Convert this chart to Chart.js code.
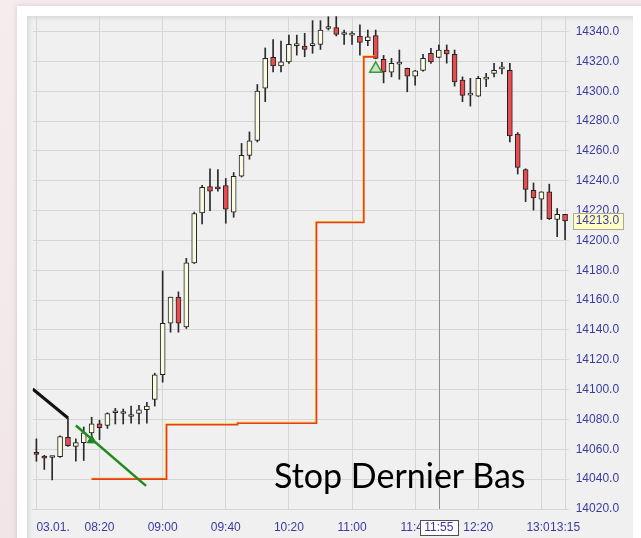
<!DOCTYPE html>
<html>
<head>
<meta charset="utf-8">
<script src="https://cdn.jsdelivr.net/npm/chart.js@4.4.0/dist/chart.umd.min.js"></script>
<style>
  html, body { margin: 0; padding: 0; width: 641px; height: 538px; overflow: hidden; }
  body { position: relative; background: linear-gradient(180deg, #f6ecee 0%, #f1e5e7 100%); }
  #frame { position: absolute; left: 17px; top: 6px; width: 640px; height: 540px; background: #fff; box-shadow: 0 0 5px rgba(120, 90, 90, 0.25); }
  #panel { position: absolute; left: 27px; top: 16px; width: 606px; height: 530px; background: #f0f0f0; box-shadow: inset 2px 2px 4px rgba(0, 0, 0, 0.10); }
  #chart { position: absolute; left: 0; top: 0; }
  #caption { position: absolute; left: 274px; top: 458px; font: 34px Lato, sans-serif; line-height: 1; color: #000; white-space: nowrap; }
</style>
</head>
<body>
<div id="frame"></div>
<div id="panel"></div>
<canvas id="chart" width="641" height="538"></canvas>
<div id="caption">Stop Dernier Bas</div>
<script>
// 5 minute candles, index 0 = 07:40
var opens  = [14058, 14055.5, 14054.5, 14055, 14068, 14062, 14064.5, 14071, 14077, 14076,
              14084.5, 14084, 14082, 14084, 14086.5, 14093.5, 14110, 14144.5, 14162, 14142,
              14185, 14218.5, 14236, 14235, 14236.7, 14219, 14243, 14257, 14267, 14302,
              14322.7, 14317, 14319.7, 14330.5, 14330.3, 14330.5, 14331.4, 14342, 14342.6, 14338,
              14337.6, 14337, 14333.8, 14337.3, 14321.3, 14312.8, 14318.2, 14315.3, 14310, 14314,
              14325.4, 14322.7, 14327.6, 14324.7, 14307.4, 14297.4, 14296.7, 14308.1, 14312, 14315,
              14314, 14271.2, 14247.5, 14233.6, 14227.7, 14232.5, 14214, 14217.5];
var highs  = [14067, 14056, 14055.5, 14069, 14081, 14067, 14075, 14081.5, 14079.5, 14084.5,
              14087.5, 14087, 14089, 14089.5, 14091.5, 14111, 14179.5, 14162, 14165.5, 14188,
              14219, 14237, 14248, 14247.5, 14241.5, 14245.5, 14265, 14272.7, 14304.5, 14329,
              14334.6, 14333.6, 14337.6, 14337.6, 14338.8, 14347.3, 14347.3, 14349.9, 14350, 14341,
              14339.9, 14344.4, 14341, 14341, 14324, 14322, 14327.6, 14315.5, 14314, 14324.7,
              14328.7, 14331, 14331, 14327.6, 14309.6, 14308.6, 14310, 14312, 14318.6, 14319.3,
              14318.6, 14272.3, 14248, 14238.5, 14232.6, 14237.7, 14221.4, 14217.5];
var lows   = [14052, 14046.5, 14039.5, 14054.5, 14062, 14052, 14052.5, 14066.5, 14066.5, 14074,
              14077, 14077, 14077.5, 14077, 14077.5, 14089, 14105, 14138.5, 14138.5, 14141,
              14184.5, 14211, 14220, 14233, 14211.5, 14215.5, 14242.5, 14254.4, 14266, 14293,
              14313, 14313, 14318.6, 14324.2, 14323.1, 14325.4, 14328, 14341, 14337, 14331.4,
              14331.4, 14324.2, 14330.5, 14321.7, 14305.6, 14309.6, 14308, 14299.6, 14304, 14313.5,
              14318.6, 14322.5, 14318.8, 14303.4, 14293, 14290, 14296.5, 14303, 14309.6, 14311.5,
              14266, 14244.5, 14226, 14220.3, 14214, 14214, 14202.5, 14200.5];
var closes = [14056.5, 14054, 14054.5, 14068.5, 14062.5, 14064.5, 14071, 14077, 14074.5, 14084,
              14084.5, 14084, 14082, 14086.5, 14089, 14110, 14144.5, 14162, 14144.5, 14185,
              14218, 14235.5, 14233, 14234.5, 14221, 14243, 14257, 14266.7, 14300, 14322,
              14317, 14319.7, 14331.4, 14330.5, 14328, 14330.5, 14341, 14342, 14338, 14338,
              14337.6, 14332.7, 14336.5, 14322, 14313, 14318.6, 14318.2, 14310.1, 14313.7, 14322,
              14319.7, 14327.6, 14325, 14306.3, 14297.2, 14297.4, 14308.6, 14308.1, 14314, 14315,
              14270, 14249, 14234.2, 14228.4, 14232.5, 14214.6, 14217.5, 14213];

var xTickIdx    = [0, 8, 16, 24, 32, 40, 48, 56, 64];
var xTickLabels = ['03.01.', '08:20', '09:00', '09:40', '10:20', '11:00', '11:40', '12:20', '13:00'];
var yTicks = [14020, 14040, 14060, 14080, 14100, 14120, 14140, 14160, 14180, 14200,
              14220, 14240, 14260, 14280, 14300, 14320, 14340];

// trailing stop on the last low, with the drawn trend lines and markers
var stopSteps  = [{x: 7, y: 14040}, {x: 16.5, y: 14076.5}, {x: 25.5, y: 14077.5},
                  {x: 35.5, y: 14212}, {x: 41.5, y: 14323}, {x: 43, y: 14323}];
var blackTrend = [{x: -0.47, y: 14100.4}, {x: 4, y: 14081}];
var greenTrend = [{x: 5, y: 14076}, {x: 13.9, y: 14035.5}];
var entryMark  = [{x: 7, y: 14066}];
var stopHit    = [{x: 43, y: 14315}];

var cursorIdx = 51, cursorLabel = '11:55';
var lastIdx = 67, lastLabel = '13:15';

var labelFont = '12px "Liberation Sans", Arial, sans-serif';
var labelColor = '#3a3aa2';
var gridColor = '#d6d6d6';

var idx = opens.map(function (o, i) { return i; });
var bodies = idx.map(function (i) { return {x: i, y: [opens[i], closes[i]]}; });
var wicks = idx.map(function (i) { return {x: i, y: [lows[i], highs[i]]}; });
var bodyColors = idx.map(function (i) { return closes[i] < opens[i] ? '#e84b50' : '#fbfbe0'; });

var overlay = {
  id: 'overlay',
  beforeDatasetsDraw: function (chart) {
    var ctx = chart.ctx, a = chart.chartArea;
    var x = Math.round(chart.scales.x.getPixelForValue(cursorIdx)) + 0.5;
    ctx.save();
    ctx.strokeStyle = '#8e8e8e';
    ctx.lineWidth = 1;
    ctx.beginPath();
    ctx.moveTo(x, a.top);
    ctx.lineTo(x, a.bottom);
    ctx.stroke();
    ctx.restore();
  },
  beforeDatasetDraw: function (chart, args) {
    if (chart.data.datasets[args.index].label === 'stopEdge') {
      chart.ctx.save();
      chart.ctx.translate(-1, -1);
    }
  },
  afterDatasetDraw: function (chart, args) {
    if (chart.data.datasets[args.index].label === 'stopEdge') chart.ctx.restore();
  },
  afterDraw: function (chart) {
    var ctx = chart.ctx, a = chart.chartArea, sx = chart.scales.x, sy = chart.scales.y;
    var ty = a.bottom + 18.5;
    ctx.save();
    ctx.font = labelFont;
    ctx.textBaseline = 'middle';

    // last candle time, on top of the 13:00 label
    var lx = sx.getPixelForValue(lastIdx);
    var lw = ctx.measureText(lastLabel).width;
    ctx.fillStyle = '#f0f0f0';
    ctx.fillRect(lx - lw / 2 - 1, ty - 7, lw + 2, 14);
    ctx.fillStyle = labelColor;
    ctx.textAlign = 'center';
    ctx.fillText(lastLabel, lx, ty);

    // cursor time box
    var cx = sx.getPixelForValue(cursorIdx);
    ctx.fillStyle = '#ffffff';
    ctx.fillRect(cx - 19, ty - 7.5, 38, 15);
    ctx.strokeStyle = '#505050';
    ctx.lineWidth = 1;
    ctx.strokeRect(Math.round(cx - 19) + 0.5, Math.round(ty - 7.5) + 0.5, 38, 15);
    ctx.fillStyle = labelColor;
    ctx.fillText(cursorLabel, cx, ty);

    // last price box on the price axis
    var py = sy.getPixelForValue(closes[lastIdx]);
    var bx = a.right + 7;
    ctx.fillStyle = '#ffffc4';
    ctx.fillRect(bx, py - 8, 50, 16);
    ctx.strokeStyle = '#a8a8a0';
    ctx.strokeRect(Math.round(bx) + 0.5, Math.round(py - 8) + 0.5, 50, 16);
    ctx.fillStyle = labelColor;
    ctx.textAlign = 'left';
    ctx.fillText(closes[lastIdx].toFixed(1), a.right + 10, py);
    ctx.restore();
  }
};

new Chart(document.getElementById('chart'), {
  type: 'bar',
  data: {
    datasets: [
      { type: 'line', label: 'blackTrend', data: blackTrend, borderColor: '#111111', borderWidth: 3,
        pointRadius: 0, order: 0 },
      { type: 'line', label: 'greenTrend', data: greenTrend, borderColor: '#1e8c1e', borderWidth: 2.5,
        pointRadius: 0, order: 0 },
      { type: 'scatter', label: 'entry', data: entryMark, pointStyle: 'triangle', pointRadius: 5,
        backgroundColor: '#1a7a1a', borderColor: '#1a7a1a', order: 0 },
      { type: 'scatter', label: 'stopHit', data: stopHit, pointStyle: 'triangle', pointRadius: 7,
        backgroundColor: 'rgba(170, 220, 170, 0.6)', borderColor: '#3c9c3c', borderWidth: 1.5, order: 0 },
      { type: 'line', label: 'stop', data: stopSteps, stepped: 'before', borderColor: '#e83c1c',
        borderWidth: 1.6, pointRadius: 0, order: 1 },
      { type: 'line', label: 'stopEdge', data: stopSteps, stepped: 'before', borderColor: '#f2d21a',
        borderWidth: 1, pointRadius: 0, order: 1.5 },
      { type: 'bar', label: 'body', data: bodies, backgroundColor: bodyColors, borderColor: '#202020',
        borderWidth: 1, borderSkipped: false, barThickness: 5, maxBarThickness: 5, minBarLength: 2,
        grouped: false, clip: false, order: 2 },
      { type: 'bar', label: 'wick', data: wicks, backgroundColor: '#2a2a2a', barThickness: 1,
        maxBarThickness: 1, grouped: false, clip: false, order: 3 }
    ]
  },
  options: {
    responsive: false,
    animation: false,
    events: [],
    layout: { padding: { left: 32.7, top: 16, right: 0, bottom: 0 } },
    plugins: { legend: { display: false }, tooltip: { enabled: false } },
    scales: {
      x: {
        type: 'linear', min: -0.47, max: 67.08, offset: false,
        afterBuildTicks: function (s) {
          s.ticks = xTickIdx.map(function (v) { return {value: v}; }).concat([{value: 67.08}]);
        },
        afterFit: function (s) { s.height = 29; s.paddingLeft = 0; s.paddingRight = 0; },
        grid: { color: gridColor, offset: false, drawTicks: false },
        border: { display: true, color: gridColor },
        ticks: {
          autoSkip: false, maxRotation: 0, align: 'inner', padding: 11, color: labelColor,
          font: { family: '"Liberation Sans", Arial, sans-serif', size: 12 },
          callback: function (v) {
            var k = xTickIdx.indexOf(v);
            return k < 0 ? '' : xTickLabels[k];
          }
        }
      },
      y: {
        position: 'right', min: 14020, max: 14350.4,
        afterBuildTicks: function (s) {
          s.ticks = yTicks.map(function (v) { return {value: v}; });
        },
        afterFit: function (s) { s.width = 75.3; s.paddingTop = 0; s.paddingBottom = 0; },
        grid: { color: gridColor, tickLength: 3 },
        border: { display: true, color: gridColor },
        ticks: {
          padding: 7, color: labelColor,
          font: { family: '"Liberation Sans", Arial, sans-serif', size: 12 },
          callback: function (v) { return v.toFixed(1); }
        }
      }
    }
  },
  plugins: [overlay]
});
</script>
</body>
</html>
